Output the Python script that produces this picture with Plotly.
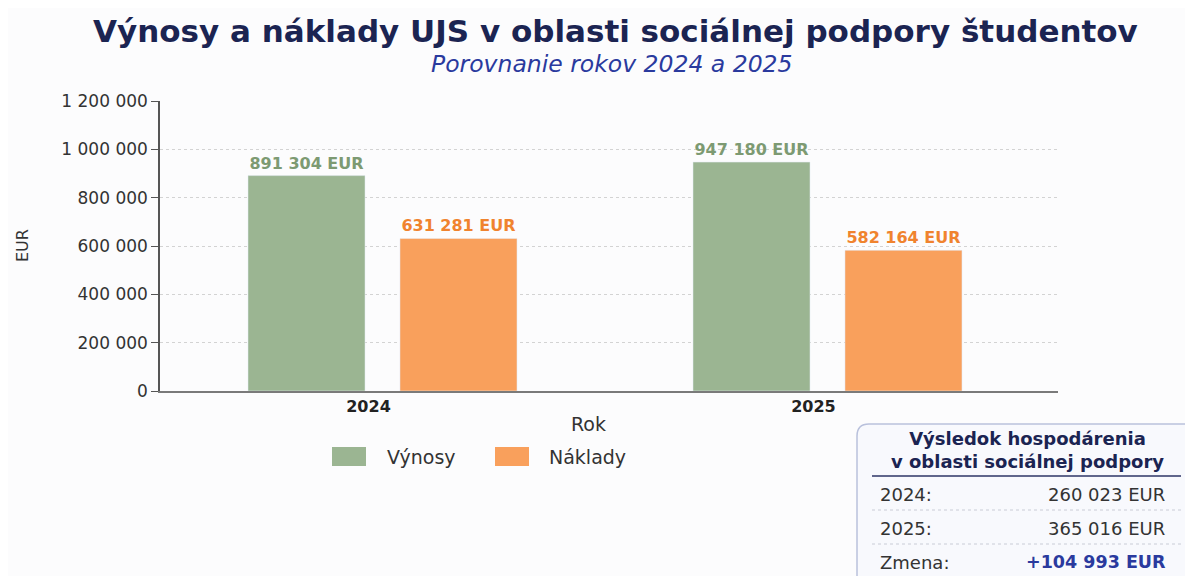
import plotly.graph_objects as go

# ---------------- data ----------------
years = ["2024", "2025"]
vynosy = [891304, 947180]
naklady = [631281, 582164]
y_ticks = [0, 200000, 400000, 600000, 800000, 1000000, 1200000]
box_years = ["2024:", "2025:"]
vysledok = [260023, 365016]
zmena = 104993

def fmt(v):
    return f"{v:,}".replace(",", " ")

# ---------------- styles ----------------
GREEN = "#9bb592"
ORANGE = "#f9a05c"
GREEN_TXT = "#7d9a72"
ORANGE_TXT = "#f0832e"
NAVY = "#1b2452"
BLUE = "#2a3a9e"
TXT = "#333333"
FONT = "DejaVu Sans"

W, H = 1193, 576
OFF = 8  # page body margin of the html page
# plot area in page pixels (reference)
L, R, T, B = 160, 1058, 101, 391

def px(x):
    return (x - L) / (R - L)

def py(y):
    return (B - y) / (B - T)

fig = go.Figure()
fig.add_bar(
    x=years, y=vynosy, name="Výnosy", marker_color=GREEN,
    text=[f"<b>{fmt(v)} EUR</b>" for v in vynosy], textposition="outside",
    textfont=dict(color=GREEN_TXT, size=16, family=FONT), cliponaxis=False,
)
fig.add_bar(
    x=years, y=naklady, name="Náklady", marker_color=ORANGE,
    text=[f"<b>{fmt(v)} EUR</b>" for v in naklady], textposition="outside",
    textfont=dict(color=ORANGE_TXT, size=16, family=FONT), cliponaxis=False,
)

annotations = []
shapes = []

# title + subtitle
annotations.append(dict(
    text="<b>Výnosy a náklady UJS v oblasti sociálnej podpory študentov</b>", x=px(615), y=py(31),
    xref="paper", yref="paper", showarrow=False, xanchor="center", yanchor="middle",
    font=dict(size=31, color=NAVY, family=FONT),
))
annotations.append(dict(
    text="<i>Porovnanie rokov 2024 a 2025</i>", x=px(612), y=py(64),
    xref="paper", yref="paper", showarrow=False, xanchor="center", yanchor="middle",
    font=dict(size=23.5, color=BLUE, family=FONT),
))
# axis titles
annotations.append(dict(
    text="EUR", x=px(22), y=py(246), xref="paper", yref="paper", showarrow=False,
    xanchor="center", yanchor="middle",
    textangle=-90, font=dict(size=16, color=TXT, family=FONT),
))
annotations.append(dict(
    text="Rok", x=px(588), y=py(424), xref="paper", yref="paper", showarrow=False,
    xanchor="center", yanchor="middle",
    font=dict(size=19, color=TXT, family=FONT),
))

# manual legend
for (x0, col, name, tx) in [(332, GREEN, "Výnosy", 385), (495, ORANGE, "Náklady", 547)]:
    shapes.append(dict(type="rect", xref="paper", yref="paper",
                       x0=px(x0), x1=px(x0 + 34), y0=py(447), y1=py(466),
                       fillcolor=col, line=dict(width=0)))
    annotations.append(dict(text=name, x=px(tx), y=py(457), xref="paper", yref="paper",
                            showarrow=False, xanchor="left", yanchor="middle",
                            font=dict(size=19, color=TXT, family=FONT)))

# info box (rounded rectangle)
bx0, by0, bx1, by1, rr = 857, 424, 1196, 600, 12
def P(x, y):
    return f"{px(x):.5f},{py(y):.5f}"
path = (f"M {P(bx0 + rr, by0)} L {P(bx1 - rr, by0)} Q {P(bx1, by0)} {P(bx1, by0 + rr)} "
        f"L {P(bx1, by1)} L {P(bx0, by1)} L {P(bx0, by0 + rr)} Q {P(bx0, by0)} {P(bx0 + rr, by0)} Z")
shapes.append(dict(type="path", path=path, xref="paper", yref="paper",
                   fillcolor="#f8f9fd", line=dict(color="#b9c1dc", width=1.5)))
shapes.append(dict(type="line", xref="paper", yref="paper", x0=px(872), x1=px(1181),
                   y0=py(476), y1=py(476), line=dict(color="#2e3566", width=1.5)))
for yy in [510, 544]:
    shapes.append(dict(type="line", xref="paper", yref="paper", x0=px(872), x1=px(1181),
                       y0=py(yy), y1=py(yy), line=dict(color="#c9ccd6", width=1, dash="dot")))

annotations.append(dict(
    text="<b>Výsledok hospodárenia<br>v oblasti sociálnej podpory</b>",
    x=px(1027), y=py(450), xref="paper", yref="paper", showarrow=False,
    xanchor="center", yanchor="middle", align="center",
    font=dict(size=18, color=NAVY, family=FONT),
))
row_y = [494, 528, 562]
for lab, val, yy in zip(box_years, vysledok, row_y[:2]):
    annotations.append(dict(text=lab, x=px(878), y=py(yy), xref="paper", yref="paper",
                            showarrow=False, xanchor="left", yanchor="middle",
                            font=dict(size=18, color=TXT, family=FONT)))
    annotations.append(dict(text=f"{fmt(val)} EUR", x=px(1167), y=py(yy), xref="paper", yref="paper",
                            showarrow=False, xanchor="right", yanchor="middle",
                            font=dict(size=18, color=TXT, family=FONT)))
annotations.append(dict(text="Zmena:", x=px(878), y=py(row_y[2]), xref="paper", yref="paper",
                        showarrow=False, xanchor="left", yanchor="middle",
                        font=dict(size=18, color=TXT, family=FONT)))
annotations.append(dict(text=f"<b>+{fmt(zmena)} EUR</b>", x=px(1168), y=py(row_y[2]), xref="paper", yref="paper",
                        showarrow=False, xanchor="right", yanchor="middle",
                        font=dict(size=17.5, color=BLUE, family=FONT)))

fig.update_layout(
    width=W, height=H,
    margin=dict(l=L - OFF, r=W - (R - OFF), t=T - OFF, b=H - (B - OFF)),
    paper_bgcolor="#fcfcfd", plot_bgcolor="#fcfcfd",
    barmode="group", bargap=0.317, bargroupgap=0.23,
    showlegend=False,
    font=dict(family=FONT, color=TXT),
    annotations=annotations, shapes=shapes,
    xaxis=dict(showline=True, linecolor="#7a7a7a", linewidth=1.5, ticks="",
               range=[-0.5, 1.518],
               tickfont=dict(size=16, color="#222222", family=FONT, weight="bold"),
               ticklabelshift=-14, showgrid=False),
    yaxis=dict(range=[0, 1200000], tickvals=y_ticks, ticktext=[fmt(v) for v in y_ticks],
               showline=True, linecolor="#555555", linewidth=1.5,
               ticks="outside", ticklen=7, tickcolor="#555555",
               tickfont=dict(size=17, color=TXT, family=FONT),
               showgrid=True, gridcolor="#d3d3d3", griddash="dot", gridwidth=1,
               zeroline=False),
)

fig.write_html("out.html")
